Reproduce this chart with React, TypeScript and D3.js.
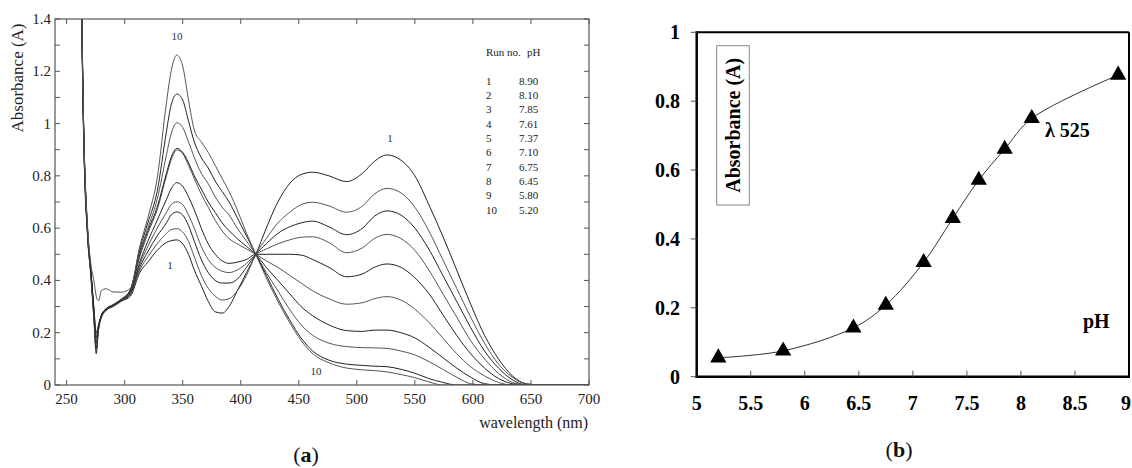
import React from 'react';
import * as d3 from 'd3';

// ---- panel (a): spectra, one array per run on a shared wavelength grid ----
const wavelengths = [258, 262, 265, 268, 271, 273.5, 275.5, 277.5, 280, 284, 290, 297, 305, 313, 320, 328, 336, 340, 345, 350,
  355, 360, 366, 372, 378, 384, 390, 397, 405, 413, 422, 432, 442, 452, 462, 476, 491, 505, 515, 526,
  538, 550, 562, 574, 586, 598, 610, 622, 634, 646, 660, 700];

const run1 = [2.2, 1.62, 0.88, 0.57, 0.41, 0.25, 0.12, 0.21, 0.258, 0.285, 0.3, 0.32, 0.34, 0.43, 0.47, 0.515, 0.545, 0.552, 0.555, 0.54,
  0.5, 0.44, 0.38, 0.32, 0.28, 0.275, 0.3, 0.36, 0.43, 0.5, 0.6, 0.7, 0.77, 0.805, 0.814, 0.8, 0.778, 0.81, 0.855, 0.88,
  0.86, 0.8, 0.69, 0.57, 0.44, 0.31, 0.19, 0.1, 0.035, 0.005, 0, 0];
const run2 = [2.2, 1.63, 0.89, 0.575, 0.415, 0.26, 0.13, 0.215, 0.26, 0.286, 0.302, 0.322, 0.345, 0.44, 0.49, 0.54, 0.58, 0.594, 0.598, 0.585,
  0.55, 0.49, 0.42, 0.37, 0.34, 0.325, 0.33, 0.36, 0.42, 0.5, 0.56, 0.62, 0.66, 0.69, 0.699, 0.685, 0.661, 0.685, 0.73, 0.752,
  0.735, 0.68, 0.59, 0.48, 0.37, 0.26, 0.16, 0.08, 0.03, 0.003, 0, 0];
const run3 = [2.2, 1.64, 0.9, 0.58, 0.42, 0.265, 0.14, 0.218, 0.262, 0.287, 0.302, 0.322, 0.35, 0.45, 0.51, 0.57, 0.62, 0.65, 0.662, 0.65,
  0.61, 0.55, 0.48, 0.43, 0.4, 0.39, 0.39, 0.405, 0.45, 0.5, 0.54, 0.58, 0.605, 0.62, 0.627, 0.605, 0.575, 0.6, 0.645, 0.666,
  0.65, 0.6, 0.52, 0.42, 0.32, 0.22, 0.13, 0.065, 0.02, 0, 0, 0];
const run4 = [2.2, 1.65, 0.9, 0.585, 0.42, 0.27, 0.15, 0.22, 0.263, 0.288, 0.303, 0.323, 0.35, 0.46, 0.53, 0.6, 0.66, 0.69, 0.701, 0.69,
  0.65, 0.6, 0.53, 0.48, 0.45, 0.435, 0.43, 0.44, 0.465, 0.5, 0.52, 0.54, 0.555, 0.565, 0.567, 0.545, 0.506, 0.525, 0.56, 0.576,
  0.56, 0.515, 0.44, 0.35, 0.26, 0.17, 0.1, 0.045, 0.01, 0, 0, 0];
const run5 = [2.2, 1.66, 0.91, 0.59, 0.425, 0.275, 0.16, 0.222, 0.264, 0.288, 0.303, 0.324, 0.355, 0.47, 0.55, 0.63, 0.71, 0.75, 0.774, 0.76,
  0.72, 0.67, 0.6, 0.54, 0.5, 0.475, 0.465, 0.47, 0.48, 0.5, 0.5, 0.5, 0.5, 0.497, 0.48, 0.45, 0.414, 0.425, 0.45, 0.463,
  0.45, 0.41, 0.35, 0.27, 0.19, 0.12, 0.065, 0.025, 0.005, 0, 0, 0];
const run6 = [2.2, 1.66, 0.91, 0.59, 0.425, 0.28, 0.17, 0.224, 0.265, 0.289, 0.304, 0.325, 0.36, 0.49, 0.58, 0.67, 0.8, 0.86, 0.899, 0.885,
  0.84, 0.79, 0.73, 0.68, 0.63, 0.59, 0.56, 0.54, 0.52, 0.5, 0.475, 0.45, 0.42, 0.39, 0.36, 0.33, 0.309, 0.315, 0.33, 0.338,
  0.325, 0.29, 0.24, 0.18, 0.12, 0.07, 0.035, 0.01, 0, 0, 0, 0];
const run7 = [2.2, 1.67, 0.92, 0.595, 0.43, 0.285, 0.18, 0.226, 0.266, 0.29, 0.305, 0.326, 0.36, 0.5, 0.59, 0.68, 0.81, 0.87, 0.905, 0.89,
  0.85, 0.8, 0.75, 0.7, 0.66, 0.62, 0.59, 0.56, 0.53, 0.5, 0.45, 0.4, 0.35, 0.3, 0.265, 0.23, 0.208, 0.205, 0.21, 0.21,
  0.2, 0.18, 0.145, 0.105, 0.065, 0.03, 0.005, 0, 0, 0, 0, 0];
const run8 = [2.2, 1.67, 0.92, 0.6, 0.43, 0.29, 0.19, 0.228, 0.267, 0.291, 0.306, 0.327, 0.365, 0.51, 0.6, 0.71, 0.88, 0.96, 1.003, 0.985,
  0.93, 0.87, 0.81, 0.77, 0.72, 0.68, 0.65, 0.6, 0.55, 0.5, 0.43, 0.36, 0.29, 0.23, 0.19, 0.16, 0.147, 0.143, 0.142, 0.14,
  0.13, 0.115, 0.09, 0.06, 0.03, 0.005, 0, 0, 0, 0, 0, 0];
const run9 = [2.2, 1.68, 0.93, 0.6, 0.435, 0.295, 0.2, 0.23, 0.268, 0.292, 0.307, 0.328, 0.365, 0.52, 0.62, 0.74, 0.97, 1.07, 1.113, 1.09,
  1.01, 0.93, 0.87, 0.83, 0.78, 0.74, 0.7, 0.64, 0.57, 0.5, 0.42, 0.33, 0.25, 0.18, 0.13, 0.095, 0.08, 0.075, 0.072, 0.07,
  0.06, 0.045, 0.025, 0.01, 0, 0, 0, 0, 0, 0, 0, 0];
const run10 = [2.2, 1.68, 0.93, 0.61, 0.46, 0.4, 0.34, 0.322, 0.362, 0.368, 0.356, 0.355, 0.37, 0.53, 0.64, 0.79, 1.08, 1.2, 1.262, 1.22,
  1.09, 0.975, 0.93, 0.89, 0.84, 0.79, 0.74, 0.67, 0.58, 0.5, 0.41, 0.32, 0.24, 0.17, 0.12, 0.085, 0.065, 0.058, 0.055, 0.05,
  0.04, 0.028, 0.012, 0, 0, 0, 0, 0, 0, 0, 0, 0];

const runs = [run1, run2, run3, run4, run5, run6, run7, run8, run9, run10];
const runNumbers = ['1', '2', '3', '4', '5', '6', '7', '8', '9', '10'];
const runPH = ['8.90', '8.10', '7.85', '7.61', '7.37', '7.10', '6.75', '6.45', '5.80', '5.20'];

const wlTicks = [250, 300, 350, 400, 450, 500, 550, 600, 650, 700];
const absTicksA = [0, 0.2, 0.4, 0.6, 0.8, 1, 1.2, 1.4];

// ---- panel (b): absorbance at 525 nm vs pH ----
const phValues = [5.2, 5.8, 6.45, 6.75, 7.1, 7.37, 7.61, 7.85, 8.1, 8.9];
const abs525 = [0.055, 0.075, 0.142, 0.208, 0.332, 0.46, 0.571, 0.661, 0.75, 0.876];
const phTicks = [5, 5.5, 6, 6.5, 7, 7.5, 8, 8.5, 9];
const absTicksB = [0, 0.2, 0.4, 0.6, 0.8, 1];

const fmt = (d: number) => String(+d.toFixed(1));
const serif = '"Liberation Serif", "Times New Roman", serif';

const SpectraPanel: React.FC = () => {
  const x = d3.scaleLinear().domain([240, 700]).range([55, 589]);
  const y = d3.scaleLinear().domain([0, 1.4]).range([385, 19]);
  const line = d3.line<number>()
    .x((_, i) => x(wavelengths[i]))
    .y(d => y(d))
    .curve(d3.curveMonotoneX);
  const minor = d3.range(0, 15).map(i => i / 10);
  const [x0, x1] = x.range();
  const [y0, y1] = y.range();

  return (
    <g fontFamily={serif}>
      <defs>
        <clipPath id="clipA"><rect x={x0} y={y1} width={x1 - x0} height={y0 - y1} /></clipPath>
      </defs>
      <g clipPath="url(#clipA)">
        {runs.map((r, i) => (
          <path key={i} d={line(r) || ''} fill="none" stroke={i % 2 ? '#555' : '#222'} strokeWidth={1} />
        ))}
      </g>
      <rect x={x0} y={y1} width={x1 - x0} height={y0 - y1} fill="none" stroke="#555" strokeWidth={1.2} />
      {minor.map(v => (
        <g key={v}>
          <line x1={x0} x2={x0 + 5} y1={y(v)} y2={y(v)} stroke="#555" />
          <line x1={x1} x2={x1 - 5} y1={y(v)} y2={y(v)} stroke="#555" />
        </g>
      ))}
      {wlTicks.map(t => (
        <g key={t}>
          <line x1={x(t)} x2={x(t)} y1={y0} y2={y0 - 5} stroke="#555" />
          <line x1={x(t)} x2={x(t)} y1={y1} y2={y1 + 5} stroke="#555" />
          <text x={x(t)} y={y0 + 19} fontSize={15} textAnchor="middle" fill="#222">{t}</text>
        </g>
      ))}
      {absTicksA.map(t => (
        <text key={t} x={x0 - 4} y={y(t) + 5} fontSize={15} textAnchor="end" fill="#222">{fmt(t)}</text>
      ))}
      <text transform={`translate(23,78) rotate(-90)`} fontSize={17} textAnchor="middle" fill="#222">Absorbance (A)</text>
      <text x={588} y={428} fontSize={16} textAnchor="end" fill="#222">wavelength (nm)</text>

      <g fontSize={11} fill="#1b3350">
        <text x={177} y={40} textAnchor="middle">10</text>
        <text x={390} y={142} textAnchor="middle">1</text>
        <text x={170} y={269} textAnchor="middle">1</text>
        <text x={316} y={375} textAnchor="middle">10</text>
      </g>

      <g fontSize={11} fill="#222">
        <text x={486} y={56}>Run no.</text>
        <text x={527} y={56}>pH</text>
        {runNumbers.map((n, i) => (
          <g key={n}>
            <text x={486} y={84.5 + i * 14.37}>{n}</text>
            <text x={519} y={84.5 + i * 14.37}>{runPH[i]}</text>
          </g>
        ))}
      </g>
      <text x={306} y={462} fontSize={22} textAnchor="middle" fill="#111">(<tspan fontWeight="bold">a</tspan>)</text>
    </g>
  );
};

const TitrationPanel: React.FC = () => {
  const x = d3.scaleLinear().domain([5, 9]).range([696.7, 1129]);
  const y = d3.scaleLinear().domain([0, 1]).range([376.7, 32.3]);
  const line = d3.line<number>()
    .x((_, i) => x(phValues[i]))
    .y(d => y(d))
    .curve(d3.curveCatmullRom);
  const tri = d3.symbol(d3.symbolTriangle, 115)();
  const [x0, x1] = x.range();
  const [y0, y1] = y.range();

  return (
    <g fontFamily={serif} fontWeight="bold">
      <path d={line(abs525) || ''} fill="none" stroke="#333" strokeWidth={1} />
      {abs525.map((v, i) => (
        <path key={i} d={tri || ''} transform={`translate(${x(phValues[i])},${y(v)})`} fill="#000" />
      ))}
      <line x1={x0} x2={x1} y1={y1} y2={y1} stroke="#000" strokeWidth={2} />
      <line x1={x1} x2={x1} y1={y1} y2={y0} stroke="#000" strokeWidth={2} />
      <line x1={x0} x2={x0} y1={y1 - 1} y2={y0 + 1.2} stroke="#000" strokeWidth={2.5} />
      <line x1={x0 - 1.2} x2={x1 + 1} y1={y0} y2={y0} stroke="#000" strokeWidth={2.5} />
      {absTicksB.map(t => (
        <g key={t}>
          <line x1={x0 - 6} x2={x0} y1={y(t)} y2={y(t)} stroke="#555" strokeWidth={1} />
          <text x={680} y={y(t) + 7} fontSize={20} textAnchor="end" fill="#000">{fmt(t)}</text>
        </g>
      ))}
      {phTicks.map(t => (
        <g key={t}>
          {t > 5 && t < 9 && <line x1={x(t)} x2={x(t)} y1={y0} y2={y0 - 6} stroke="#555" strokeWidth={1} />}
          <text x={t === 9 ? 1131 : x(t)} y={410} fontSize={20} textAnchor={t === 9 ? 'end' : 'middle'} fill="#000">{fmt(t)}</text>
        </g>
      ))}
      <rect x={716.7} y={45.7} width={32.6} height={159.3} fill="#fff" stroke="#888" strokeWidth={1} />
      <text transform="translate(740,125.3) rotate(-90)" fontSize={20} textAnchor="middle" fill="#000">Absorbance (A)</text>
      <text x={1045} y={137} fontSize={20} fill="#000">λ 525</text>
      <text x={1083} y={328} fontSize={20} fill="#000">pH</text>
      <text x={899} y={457} fontSize={22} fontWeight="normal" textAnchor="middle" fill="#111">(<tspan fontWeight="bold">b</tspan>)</text>
    </g>
  );
};

export default function App() {
  return (
    <svg width={1132} height={468} style={{ position: 'absolute', left: 0, top: 0, background: '#fff' }}>
      <SpectraPanel />
      <TitrationPanel />
    </svg>
  );
}
